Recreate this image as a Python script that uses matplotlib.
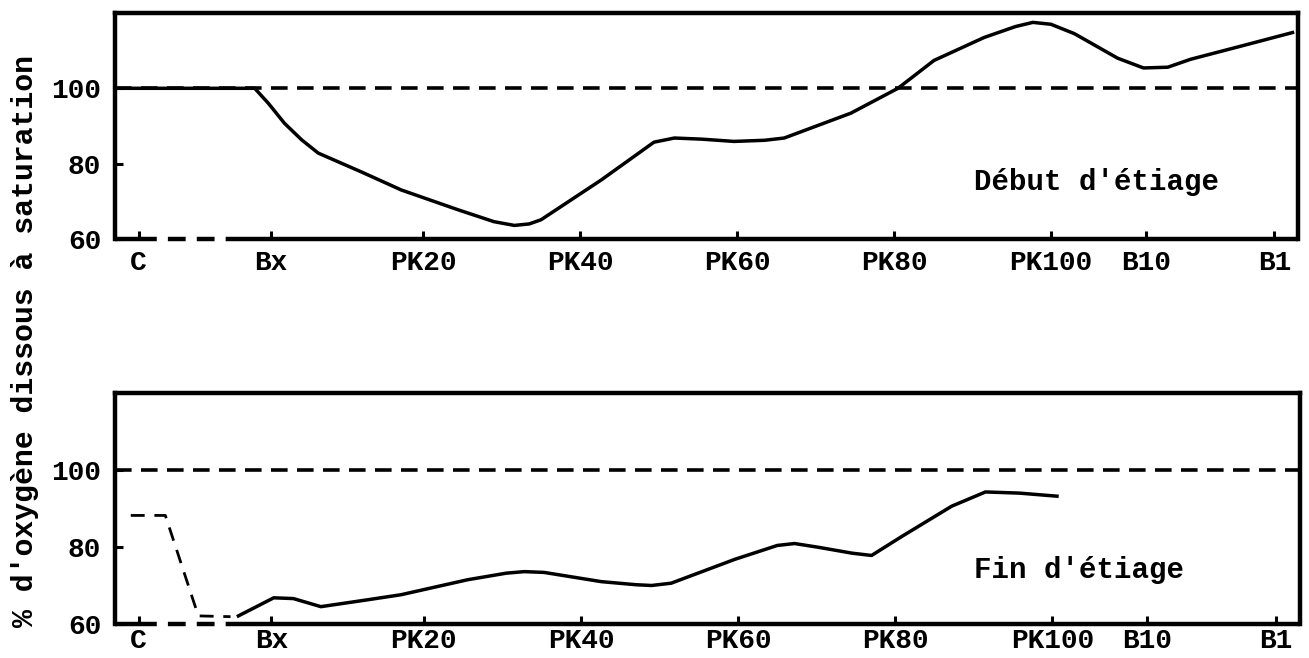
import matplotlib
matplotlib.use("Agg")
import matplotlib.pyplot as plt

# ---- data (x in km along the river, Bx ~ PK0) ----
tick_pos = [-16.3, 0.6, 20, 40, 60, 80, 100, 112.1, 128.5]
tick_labels = ["C", "Bx", "PK20", "PK40", "PK60", "PK80", "PK100", "B10", "B1"]

debut_x = [-19.5, -1.5, 0.25, 2.3, 4.5, 6.6, 12.1, 17.2, 24.5, 29.0, 31.6, 33.5,
           35.0, 42.7, 49.4, 52.0, 55.5, 59.6, 63.5, 66.0, 74.5, 80.5, 85.1,
           91.5, 95.5, 97.7, 100.0, 103.0, 108.5, 111.8, 114.9, 117.8, 124.6, 130.8]
debut_y = [100, 100, 96.0, 90.7, 86.3, 82.8, 77.8, 73.0, 67.7, 64.6, 63.6, 64.0,
           65.1, 75.7, 85.7, 86.8, 86.5, 85.9, 86.2, 86.8, 93.4, 100, 107.4,
           113.5, 116.4, 117.5, 117.0, 114.5, 108.0, 105.4, 105.6, 107.7, 111.4, 114.8]

fin_x = [-3.6, 0.9, 3.4, 6.9, 12.9, 17.1, 25.6, 30.5, 32.8, 35.3, 42.6, 47.0,
         49.0, 51.5, 59.6, 65.0, 67.2, 70.3, 74.5, 77.0, 80.9, 83.0, 87.2, 91.5,
         95.8, 100.6]
fin_y = [62.1, 66.8, 66.6, 64.5, 66.3, 67.6, 71.5, 73.2, 73.6, 73.4, 71.0, 70.2,
         70.0, 70.6, 76.8, 80.4, 80.9, 79.9, 78.4, 77.8, 82.8, 85.4, 90.6, 94.3,
         94.0, 93.2]

# dashed upstream series (bottom panel)
fin_up_x = [-17.3, -12.9, -8.7, -4.6]
fin_up_y = [88.2, 88.2, 62.1, 61.9]

saturation = 100
xlim = (-19.3, 131.5)
ylim = (60, 120)
yticks = [60, 80, 100]
dash_break = (-16.3, -3.6)   # dashed stretch of the base line between C and Bx

FONT = "Liberation Mono"
plt.rcParams["font.family"] = [FONT, "DejaVu Sans Mono"]
plt.rcParams["font.weight"] = "bold"

fig = plt.figure(figsize=(13.09, 6.58), dpi=100)
ax1 = fig.add_axes([0.0879, 0.6368, 0.9037, 0.3435])
ax2 = fig.add_axes([0.0879, 0.0517, 0.9050, 0.3510])

dash = (4.6, 2.6)

def style(ax, xpad):
    ax.set_xlim(*xlim)
    ax.set_ylim(*ylim)
    ax.set_xticks(tick_pos)
    ax.set_xticklabels(tick_labels)
    ax.set_yticks(yticks)
    for s in ["left", "top", "right"]:
        ax.spines[s].set_linewidth(3.2)
        ax.spines[s].set_color("black")
    ax.spines["bottom"].set_visible(False)
    ax.tick_params(axis="both", direction="in", length=6, width=2.2,
                   labelsize=20, color="black")
    ax.tick_params(axis="x", pad=xpad)
    ax.tick_params(axis="y", pad=10, length=6)
    for lab in ax.get_xticklabels() + ax.get_yticklabels():
        lab.set_fontweight("bold")
    # base line: solid, dashed stretch, solid
    kw = dict(color="black", lw=3.2, solid_capstyle="butt", clip_on=False)
    ax.plot([xlim[0], dash_break[0]], [ylim[0], ylim[0]], **kw)
    ax.plot([dash_break[1], xlim[1]], [ylim[0], ylim[0]], **kw)
    ax.plot(list(dash_break), [ylim[0], ylim[0]], color="black", lw=3.2,
            dashes=(4, 2.5), clip_on=False)
    ax.axhline(saturation, color="black", lw=2.6, dashes=dash)

style(ax1, 8)
style(ax2, 3)

ax1.plot(debut_x, debut_y, color="black", lw=2.5, solid_joinstyle="round")
ax1.text(90.2, 75.0, "Début d'étiage", fontsize=21, fontweight="bold",
         ha="left", va="center")

ax2.plot(fin_x, fin_y, color="black", lw=2.5, solid_joinstyle="round")
ax2.plot(fin_up_x, fin_up_y, color="black", lw=2.0, dashes=(5, 3.5))
ax2.text(90.0, 74.0, "Fin d'étiage", fontsize=21, fontweight="bold",
         ha="left", va="center")

fig.text(0.019, 0.482, "% d'oxygène dissous à saturation", rotation=90,
         fontsize=21.5, fontweight="bold", ha="center", va="center")

fig.savefig("out.png", dpi=100)
